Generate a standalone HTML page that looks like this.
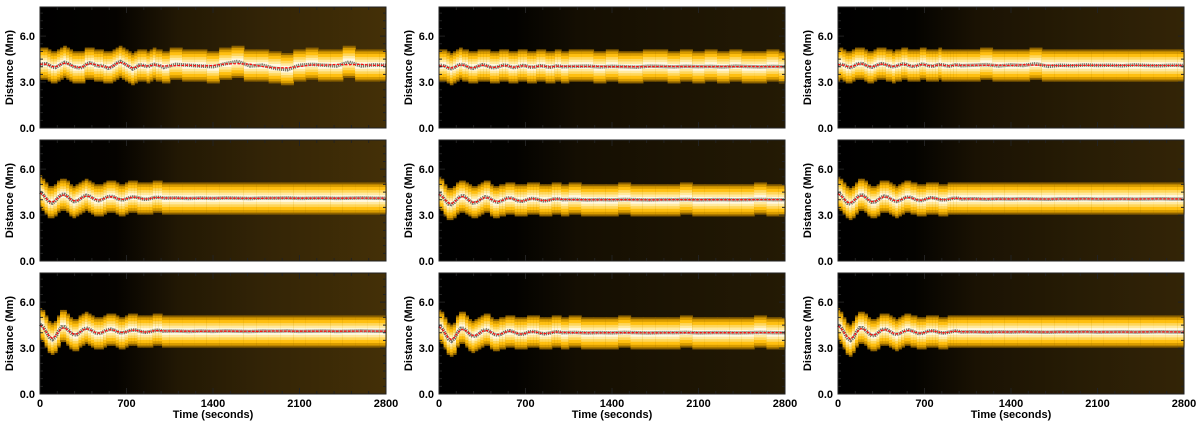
<!DOCTYPE html>
<html><head><meta charset="utf-8"><style>
html,body{margin:0;padding:0;background:#fff;}
svg{display:block;font-family:"Liberation Sans",sans-serif;font-weight:bold;}
</style></head><body>
<svg id="fig" width="1200" height="426" viewBox="0 0 1200 426" xmlns="http://www.w3.org/2000/svg">
<defs>
<linearGradient id="bg0" x1="0" x2="1" y1="0" y2="0">
<stop offset="0" stop-color="#000"/>
<stop offset="0.22" stop-color="#050300"/>
<stop offset="0.4" stop-color="#221804"/>
<stop offset="0.65" stop-color="#332406"/>
<stop offset="1" stop-color="#443007"/>
</linearGradient>
<linearGradient id="bg1" x1="0" x2="1" y1="0" y2="0">
<stop offset="0" stop-color="#000"/>
<stop offset="0.22" stop-color="#030200"/>
<stop offset="0.4" stop-color="#140e02"/>
<stop offset="0.7" stop-color="#1c1403"/>
<stop offset="1" stop-color="#241a04"/>
</linearGradient>
<linearGradient id="bg2" x1="0" x2="1" y1="0" y2="0">
<stop offset="0" stop-color="#000"/>
<stop offset="0.22" stop-color="#040300"/>
<stop offset="0.4" stop-color="#1a1203"/>
<stop offset="0.7" stop-color="#271c05"/>
<stop offset="1" stop-color="#332406"/>
</linearGradient>
</defs>
</svg>
<script>
const times = [0,25,50,75,100,125,150,175,200,225,250,275,300,325,350,375,400,425,450,475,500,525,550,575,600,625,650,675,700,725,750,775,800,825,850,875,900,925,950,975,1000,1100,1200,1300,1400,1500,1600,1700,1800,1900,2000,2100,2200,2300,2400,2500,2600,2700,2800];
const posR1C1 = [4.15,4.18,4.20,4.10,3.98,3.95,4.05,4.20,4.28,4.22,4.10,4.00,3.95,3.92,4.00,4.15,4.25,4.22,4.10,4.05,4.08,4.00,3.90,3.95,4.10,4.25,4.35,4.25,4.10,4.00,3.85,3.95,4.10,4.12,4.05,4.00,4.10,4.15,4.10,4.05,3.95,4.15,4.10,4.05,4.00,4.20,4.35,4.05,4.10,3.90,3.80,4.10,4.15,4.10,4.05,4.30,4.05,4.12,4.10];
const posR1C2 = [4.05,4.10,4.02,3.92,3.88,3.95,4.08,4.15,4.12,4.02,3.92,3.90,3.97,4.07,4.13,4.10,4.02,3.95,3.93,3.98,4.06,4.10,4.08,4.00,3.95,3.96,4.03,4.08,4.07,4.00,3.96,3.98,4.04,4.07,4.04,3.99,3.97,4.01,4.05,4.04,4.00,4.02,4.05,3.98,4.03,4.00,3.97,4.04,4.02,3.99,4.03,4.00,4.02,3.98,4.04,4.01,3.99,4.02,4.00];
const posR1C3 = [4.12,4.18,4.10,4.00,3.95,4.02,4.15,4.22,4.20,4.10,4.00,3.97,4.04,4.14,4.20,4.18,4.10,4.02,4.00,4.05,4.13,4.18,4.15,4.07,4.02,4.03,4.10,4.16,4.15,4.08,4.03,4.05,4.11,4.14,4.11,4.06,4.04,4.08,4.12,4.11,4.07,4.10,4.14,4.05,4.12,4.08,4.20,4.02,4.10,4.06,4.12,4.08,4.10,4.06,4.12,4.08,4.06,4.10,4.08];
const posR2C1 = [4.50,4.36,4.07,3.83,3.78,3.93,4.17,4.35,4.35,4.20,4.00,3.88,3.91,4.05,4.21,4.29,4.24,4.11,3.99,3.94,4.00,4.11,4.20,4.23,4.17,4.07,4.00,4.00,4.06,4.14,4.18,4.17,4.12,4.06,4.03,4.05,4.09,4.14,4.16,4.14,4.10,4.12,4.08,4.11,4.09,4.12,4.10,4.08,4.11,4.10,4.12,4.09,4.10,4.11,4.09,4.10,4.12,4.10,4.10];
const posR2C2 = [4.40,4.26,3.97,3.73,3.68,3.83,4.07,4.25,4.25,4.10,3.90,3.78,3.81,3.95,4.11,4.19,4.14,4.01,3.89,3.84,3.90,4.01,4.10,4.13,4.07,3.97,3.90,3.90,3.96,4.04,4.08,4.07,4.02,3.96,3.93,3.95,3.99,4.04,4.06,4.04,4.00,4.02,3.98,4.01,3.99,4.02,4.00,3.98,4.01,4.00,4.02,3.99,4.00,4.01,3.99,4.00,4.02,4.00,4.00];
const posR2C3 = [4.45,4.31,4.02,3.78,3.73,3.88,4.12,4.30,4.30,4.15,3.95,3.83,3.86,4.00,4.16,4.24,4.19,4.06,3.94,3.89,3.95,4.06,4.15,4.18,4.12,4.02,3.95,3.95,4.01,4.09,4.13,4.12,4.07,4.01,3.98,4.00,4.04,4.09,4.11,4.09,4.05,4.07,4.03,4.06,4.04,4.07,4.05,4.03,4.06,4.05,4.07,4.04,4.05,4.06,4.04,4.05,4.07,4.05,4.05];
const posR3C1 = [4.55,4.40,4.05,3.70,3.55,3.70,4.10,4.38,4.38,4.20,3.98,3.85,3.88,4.05,4.22,4.30,4.24,4.11,3.99,3.94,4.00,4.11,4.20,4.23,4.17,4.07,4.00,4.00,4.06,4.14,4.18,4.17,4.12,4.06,4.03,4.05,4.09,4.14,4.16,4.14,4.10,4.12,4.08,4.11,4.09,4.12,4.10,4.08,4.11,4.10,4.12,4.09,4.10,4.11,4.09,4.10,4.12,4.10,4.10];
const posR3C2 = [4.45,4.30,3.95,3.60,3.45,3.62,4.02,4.28,4.28,4.10,3.88,3.76,3.80,3.95,4.12,4.20,4.14,4.01,3.89,3.84,3.90,4.01,4.10,4.13,4.07,3.97,3.90,3.90,3.96,4.04,4.08,4.07,4.02,3.96,3.93,3.95,3.99,4.04,4.06,4.04,4.00,4.02,3.98,4.01,3.99,4.02,4.00,3.98,4.01,4.00,4.02,3.99,4.00,4.01,3.99,4.00,4.02,4.00,4.00];
const posR3C3 = [4.50,4.36,4.00,3.65,3.50,3.66,4.06,4.33,4.33,4.15,3.93,3.80,3.84,4.00,4.17,4.25,4.19,4.06,3.94,3.89,3.95,4.06,4.15,4.18,4.12,4.02,3.95,3.95,4.01,4.09,4.13,4.12,4.07,4.01,3.98,4.00,4.04,4.09,4.11,4.09,4.05,4.07,4.03,4.06,4.04,4.07,4.05,4.03,4.06,4.05,4.07,4.04,4.05,4.06,4.04,4.05,4.07,4.05,4.05];
const yTicks = [0,3,6];
const yTickLabels = ["0.0","3.0","6.0"];
const xTicks = [0,700,1400,2100,2800];
const xTickLabels = ["0","700","1400","2100","2800"];

const panels = [
 {name:'r1c1',x:40,y:7,s:posR1C1,bg:'bg0'},{name:'r1c2',x:439,y:7,s:posR1C2,bg:'bg1'},{name:'r1c3',x:838,y:7,s:posR1C3,bg:'bg2'},
 {name:'r2c1',x:40,y:140,s:posR2C1,bg:'bg0'},{name:'r2c2',x:439,y:140,s:posR2C2,bg:'bg1'},{name:'r2c3',x:838,y:140,s:posR2C3,bg:'bg2'},
 {name:'r3c1',x:40,y:273,s:posR3C1,bg:'bg0'},{name:'r3c2',x:439,y:273,s:posR3C2,bg:'bg1'},{name:'r3c3',x:838,y:273,s:posR3C3,bg:'bg2'}
];
const W=346,H=121,TMAX=2800,YMAX=7.9;
const NS='http://www.w3.org/2000/svg';
const svg=document.getElementById('fig');
function mk(tag,attrs,parent){const e=document.createElementNS(NS,tag);for(const k in attrs)e.setAttribute(k,attrs[k]);(parent||svg).appendChild(e);return e;}
const layers=[[1.05,'#8a6000'],[0.92,'#d99c00'],[0.75,'#ffbf10'],[0.55,'#ffd65a'],[0.38,'#ffe9a0'],[0.22,'#fff8e2']];
panels.forEach((p,pi)=>{
  const g=mk('g',{});
  
  
  const xs=t=>p.x+t/TMAX*W, ys=v=>p.y+H-v/YMAX*H;
  const bg=mk('rect',{x:p.x,y:p.y,width:W,height:H,fill:'url(#'+p.bg+')'},g);
  
  
  const hm=mk('g',{},g);
  
  
  for(let i=0;i<times.length;i++){
    const t0=i===0?0:(times[i-1]+times[i])/2;
    const t1=i===times.length-1?TMAX:(times[i]+times[i+1])/2;
    const c=Math.round(p.s[i]/0.12)*0.12;
    layers.forEach(([hw,col])=>{
      const r=mk('rect',{x:xs(t0),y:ys(c+hw),width:xs(t1)-xs(t0)+0.6,height:ys(c-hw)-ys(c+hw),fill:col},hm);
      
      
    });
  }
  const pts=times.map((t,i)=>xs(t).toFixed(1)+','+ys(p.s[i]).toFixed(1)).join(' ');
  const obs=mk('polyline',{points:pts,fill:'none',stroke:'#3a3a30',"stroke-width":3.5,opacity:0.7,"stroke-dasharray":'1.2 0.8'},g);
  
  
  const sm=p.s.map((v,i)=>(p.s[Math.max(0,i-1)]+v+p.s[Math.min(p.s.length-1,i+1)])/3);
  const pts2=times.map((t,i)=>xs(t).toFixed(1)+','+ys(sm[i]).toFixed(1)).join(' ');
  const fit=mk('polyline',{points:pts2,fill:'none',stroke:'#ff1010',"stroke-width":1.3,"stroke-dasharray":'2.5 1.5'},g);
  
  
  const fr=mk('rect',{x:p.x,y:p.y,width:W,height:H,fill:'none',stroke:'#222',"stroke-width":1},g);
  
  
  let d='';
  for(let v=0;v<=7.5;v+=0.5){const yy=ys(v);const L=(Math.abs(v%3)<1e-6)?6:3;d+=`M${p.x},${yy}h${L}M${p.x+W},${yy}h${-L}`;}
  for(let t=0;t<=TMAX;t+=140){const xx=xs(t);const L=(t%700===0)?6:3;d+=`M${xx},${p.y+H}v${-L}M${xx},${p.y}v${L}`;}
  const tk=mk('path',{d:d,stroke:'#222',"stroke-width":1,fill:'none'},g);
  
  
  yTicks.forEach((v,i)=>{
    const tx=mk('text',{x:p.x-5,y:ys(v)+4,"text-anchor":'end',"font-size":11,fill:'#000'},g);
    tx.textContent=yTickLabels[i];
    
    
  });
  const yl=mk('text',{x:0,y:0,transform:`translate(${p.x-27},${p.y+H/2}) rotate(-90)`,"text-anchor":'middle',"font-size":11,fill:'#000'},g);
  yl.textContent='Distance  (Mm)';
  
  
  if(pi>=6){
    xTicks.forEach((t,i)=>{
      const tx=mk('text',{x:xs(t),y:p.y+H+13,"text-anchor":'middle',"font-size":11,fill:'#000'},g);
      tx.textContent=xTickLabels[i];
      
      
    });
    const xl=mk('text',{x:p.x+W/2,y:p.y+H+24,"text-anchor":'middle',"font-size":11,fill:'#000'},g);
    xl.textContent='Time  (seconds)';
    
    
  }
});
</script>
</body></html>
